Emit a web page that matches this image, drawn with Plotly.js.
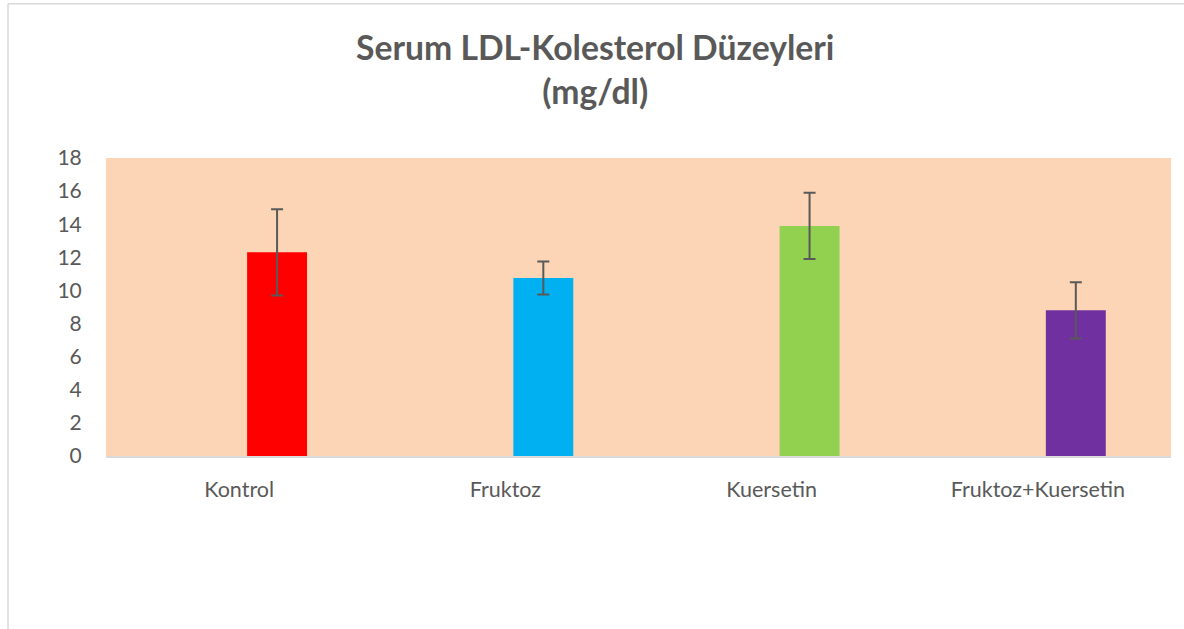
<!DOCTYPE html>
<html>
<head>
<meta charset="utf-8">
<script src="https://cdn.plot.ly/plotly-3.0.1.min.js"></script>
<style>
html,body{margin:0;padding:0;background:#fff;}
#chart{width:1184px;height:629px;}
</style>
</head>
<body>
<div id="chart"></div>
<script>
const categories = ["Kontrol", "Fruktoz", "Kuersetin", "Fruktoz+Kuersetin"];
const values = [12.3, 10.75, 13.9, 8.8];
const errors = [2.6, 1.0, 2.0, 1.7];
const colors = ["#FF0000", "#00B0F0", "#92D050", "#7030A0"];
const yTicks = [0, 2, 4, 6, 8, 10, 12, 14, 16, 18];
const titleText = "<b>Serum LDL-Kolesterol Düzeyleri<br>(mg/dl)</b>";

const trace = {
  type: "bar",
  x: categories,
  y: values,
  marker: {color: colors},
  width: 0.225,
  offset: 0.03,
  error_y: {type: "data", array: errors, visible: true, color: "#595959", thickness: 2, width: 6},
  hoverinfo: "skip"
};

const layout = {
  width: 1184, height: 629,
  margin: {l: 106, r: 13, t: 158, b: 173, pad: 0},
  paper_bgcolor: "#ffffff",
  plot_bgcolor: "#FBD5B5",
  showlegend: false,
  font: {family: "Lato, 'Open Sans', sans-serif", color: "#595959"},
  xaxis: {
    type: "category",
    range: [-0.5, 3.5],
    showgrid: false, zeroline: false,
    showline: true, linecolor: "#D9D9D9", linewidth: 1.5,
    ticks: "outside", ticklen: 14, tickcolor: "rgba(0,0,0,0)",
    tickfont: {size: 21.5, color: "#595959"},
    fixedrange: true
  },
  yaxis: {
    range: [0, 18],
    tickvals: yTicks,
    ticktext: yTicks.map(String),
    showgrid: false, zeroline: false, showline: false,
    ticks: "outside", ticklen: 19, tickcolor: "rgba(0,0,0,0)",
    tickfont: {size: 21, color: "#595959"},
    fixedrange: true
  },
  annotations: [{
    text: titleText,
    xref: "paper", yref: "paper",
    x: (595 - 106) / 1065, y: (456 - 69) / 298,
    xanchor: "center", yanchor: "middle",
    showarrow: false,
    font: {family: "Lato, 'Open Sans', sans-serif", size: 33.7, color: "#595959"}
  }],
  shapes: [
    {type: "line", xref: "paper", yref: "paper", x0: -0.092, x1: -0.092, y0: -0.6, y1: 1.518, line: {color: "#D9D9D9", width: 1.5}},
    {type: "line", xref: "paper", yref: "paper", x0: -0.092, x1: 1.02, y0: 1.518, y1: 1.518, line: {color: "#D9D9D9", width: 1.5}}
  ]
};

Plotly.newPlot("chart", [trace], layout, {displayModeBar: false, staticPlot: true});
</script>
</body>
</html>
